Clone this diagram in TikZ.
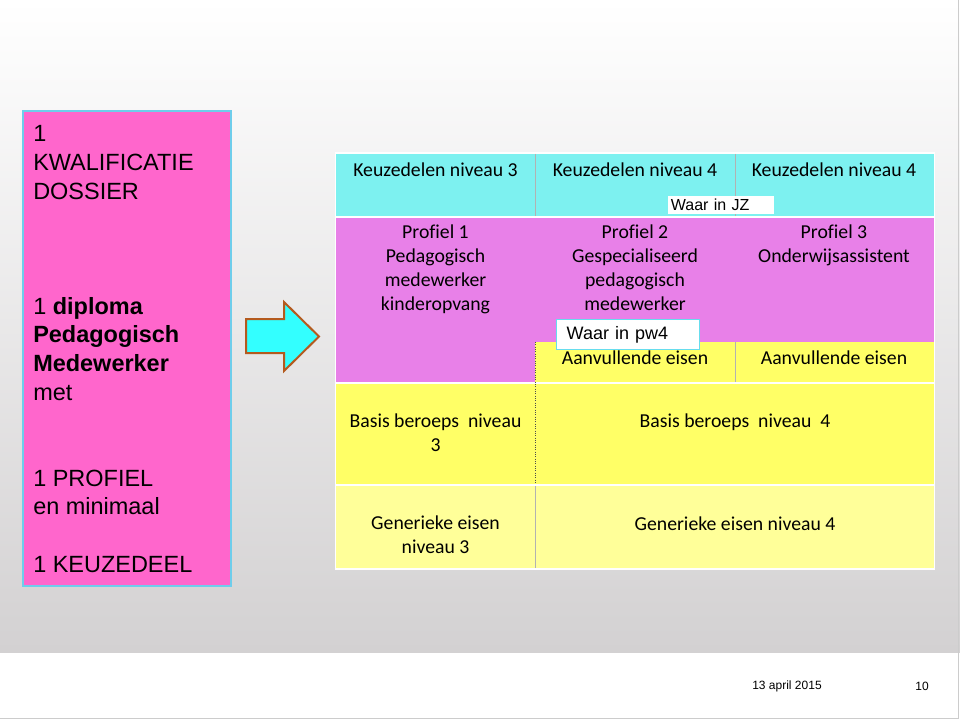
\documentclass[tikz,border=0pt]{standalone}
\usepackage{fontspec}
\setmainfont{Liberation Sans}
\newfontfamily\calibri[Ligatures=NoCommon]{Carlito}

\definecolor{bggray}{RGB}{211,209,210}
\definecolor{kdpink}{RGB}{255,102,204}
\definecolor{kdborder}{RGB}{110,205,235}
\definecolor{arrowcyan}{RGB}{51,255,255}
\definecolor{arrowbrown}{RGB}{180,90,30}
\definecolor{kzcyan}{RGB}{125,241,240}
\definecolor{prpink}{RGB}{232,128,232}
\definecolor{aeyellow}{RGB}{255,255,102}
\definecolor{geyellow}{RGB}{255,255,153}
\definecolor{tagcyan}{RGB}{102,221,238}

\begin{document}
\begin{tikzpicture}[x=0.75pt,y=-0.75pt,
  cell/.style={font=\calibri\fontsize{14.8pt}{18pt}\selectfont, align=center, inner sep=0},
  dossier/.style={font=\fontsize{17.6pt}{21.5pt}\selectfont, anchor=base west, inner sep=0},
  divider/.style={draw=gray!60, line width=0.5pt},
  tag/.style={fill=white, anchor=north west, font=\fontsize{12pt}{14pt}\selectfont, align=left, inner ysep=0pt}]

\useasboundingbox (0,0) rectangle (960,720);
% achtergrond
\fill[white] (0,0) rectangle (960,720);
\shade[top color=white, bottom color=bggray] (0,0) rectangle (960,652);
\draw[gray!40, line width=0.75pt] (958,0) -- (958,718) -- (0,718);

% kwalificatiedossier
\draw[fill=kdpink, draw=kdborder, line width=1pt] (23,111) rectangle (231,586);
\foreach \i/\t in {0/1, 1/KWALIFICATIE, 2/DOSSIER, 6/{1 \textbf{diploma}}, 7/\textbf{Pedagogisch},
  8/\textbf{Medewerker}, 9/met, 12/1 PROFIEL, 13/en minimaal, 15/1 KEUZEDEEL} {
\node[dossier] (regel\i) at (33,142+28.67*\i) {\t};
}

% pijl
\draw[fill=arrowcyan, draw=arrowbrown, line width=1.5pt] (246,319) -- (284,319) -- (284,302)
  -- (319,336.5) -- (284,371) -- (284,353) -- (246,353) -- cycle;

% tabel
\fill[white] (335,152) rectangle (935,570);
\fill[kzcyan] (336,154) rectangle (934,216);
\fill[prpink] (336,218) rectangle (934,382);
\fill[aeyellow] (535,342) rectangle (934,382);
\fill[aeyellow] (336,384) rectangle (934,484);
\fill[geyellow] (336,486) rectangle (934,568);
\draw[divider] (535,154) -- (535,216) (735,154) -- (735,216) (735,342) -- (735,382) (535,486) -- (535,568);
\draw[densely dotted, line width=0.75pt, black!70] (535,342) -- (535,484);

\foreach \k/\x/\n in {1/435.5/3, 2/635/4, 3/834/4} {
\node[cell] (keuze\k) at (\x,170) {Keuzedelen niveau \n};
}
\node[cell, anchor=north] (profiel1) at (435.5,225) {Profiel 1\\Pedagogisch\\medewerker\\kinderopvang};
\node[cell, anchor=north] (profiel2) at (635,225) {Profiel 2\\Gespecialiseerd\\pedagogisch\\medewerker};
\node[cell, anchor=north] (profiel3) at (834,225) {Profiel 3\\Onderwijsassistent};
\node[cell] (aanvullend2) at (635,358) {Aanvullende eisen};
\node[cell] (aanvullend3) at (834,358) {Aanvullende eisen};
\node[cell, anchor=north] (basis3) at (435.5,414) {Basis beroeps~ niveau\\3};
\node[cell] (basis4) at (735,422) {Basis beroeps~ niveau~ 4};
\node[cell, anchor=north] (generiek3) at (435.5,516) {Generieke eisen\\niveau 3};
\node[cell] (generiek4) at (735,524) {Generieke eisen niveau 4};

\node[tag, text width=75.5pt, minimum height=13.5pt, inner xsep=2pt] (waarjz) at (668,196) {Waar in JZ};
\node[tag, draw=tagcyan, line width=1pt, text width=92pt, minimum height=22.5pt, inner xsep=7.5pt,
  font=\fontsize{13.5pt}{15pt}\selectfont] (waarpw) at (556,319) {Waar in pw4};

% voettekst
\node[font=\fontsize{9pt}{11pt}\selectfont] (datum) at (787,686) {13 april 2015};
\node[font=\fontsize{9pt}{11pt}\selectfont] (pagina) at (922,686) {10};

\end{tikzpicture}
\end{document}
